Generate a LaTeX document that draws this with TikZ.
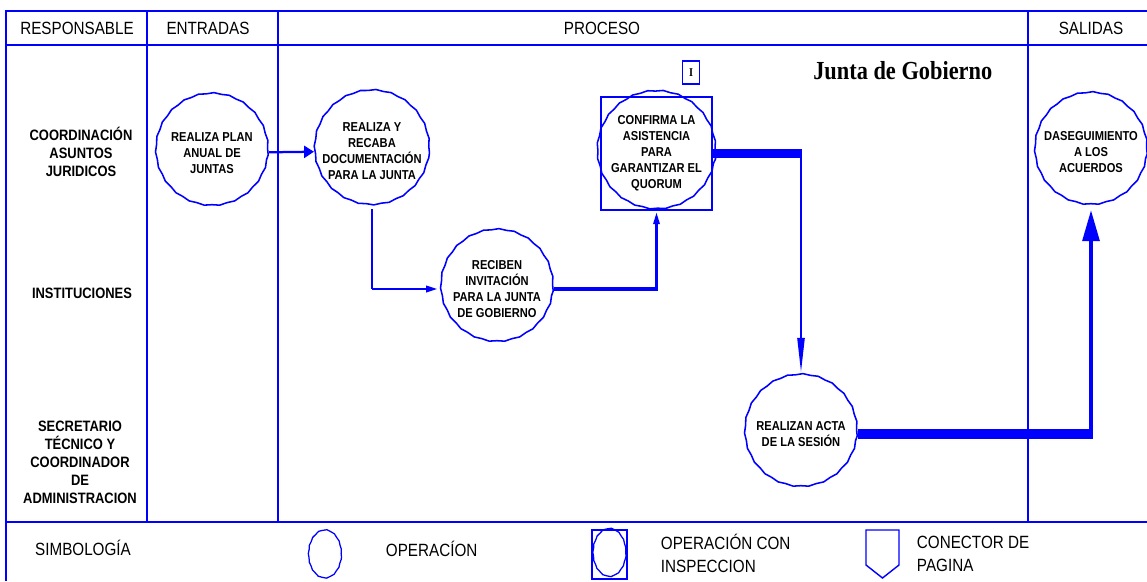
\documentclass[tikz,border=0pt]{standalone}
\usepackage{fontspec}
\setmainfont[FakeStretch=0.86]{Liberation Sans}
\newfontfamily\titlefont[FakeStretch=0.86]{Liberation Serif}
\usetikzlibrary{arrows.meta,decorations.pathmorphing,shapes.geometric,positioning}
\definecolor{lineblue}{RGB}{0,0,255}
\tikzset{
    oper/.style={circle,draw=lineblue,line width=1.1pt,minimum size=2.8cm,inner sep=0pt,align=center,
        font=\fontsize{9.2}{11.4}\selectfont\bfseries,decorate,decoration={snake,amplitude=0.35pt,segment length=11pt}},
    symoval/.style={ellipse,draw=lineblue,line width=0.9pt,minimum width=0.82cm,minimum height=1.2cm,inner sep=0pt,
        decorate,decoration={snake,amplitude=0.2pt,segment length=6pt}},
    lane/.style={align=center,font=\fontsize{10.7}{12.8}\selectfont\bfseries},
    head/.style={font=\fontsize{12.6}{15}\selectfont},
    legend/.style={align=left,anchor=west,font=\fontsize{12.6}{16.4}\selectfont},
    frame/.style={lineblue,line width=1.4pt},
    flow/.style={lineblue,line width=1.6pt},
    bar/.style={lineblue,line width=7pt},
}
\begin{document}
\begin{tikzpicture}[x=0.025cm,y=-0.025cm]
    \useasboundingbox (0,0) rectangle (1147,581);
    \draw[frame] (6,581) -- (6,11) -- (1147,11);
    \draw[frame] (6,45) -- (1147,45);
    \draw[frame] (6,522) -- (1147,522);
    \draw[frame] (147,11) -- (147,522);
    \draw[frame] (278,11) -- (278,522);
    \draw[frame] (1028,11) -- (1028,522);

    \node[head] (hresp) at (77,28) {RESPONSABLE};
    \node[head] (hent) at (208,28) {ENTRADAS};
    \node[head] (hproc) at (602,28) {PROCESO};
    \node[head] (hsal) at (1091,28) {SALIDAS};

    \node[lane] (lcoord) at (81,152) {COORDINACIÓN\\ASUNTOS\\JURIDICOS};
    \node[lane] (linst) at (82,293) {INSTITUCIONES};
    \node[lane] (lsec) at (80,462) {SECRETARIO\\TÉCNICO Y\\COORDINADOR\\DE\\ADMINISTRACION};

    \node[font=\titlefont\fontsize{18.5}{20}\selectfont\bfseries,anchor=base west,inner sep=0pt] (titulo) at (813,79) {Junta de Gobierno};
    \node[draw=lineblue,line width=1pt,minimum width=0.42cm,minimum height=0.57cm,inner sep=0pt,
        font=\titlefont\fontsize{8.5}{10}\selectfont\bfseries] (conector) at (691,72.5) {I};

    \node[oper] (plan) at (212,153) {REALIZA PLAN\\ANUAL DE\\JUNTAS};
    \node[oper] (recaba) at (372,151) {REALIZA Y\\RECABA\\DOCUMENTACIÓN\\PARA LA JUNTA};
    \node[oper] (invita) at (497,289) {RECIBEN\\INVITACIÓN\\PARA LA JUNTA\\DE GOBIERNO};
    \node[draw=lineblue,line width=1.2pt,minimum width=2.775cm,minimum height=2.825cm] (confbox) at (656.5,153.5) {};
    \node[oper,minimum size=2.75cm] (confirma) at (confbox) {CONFIRMA LA\\ASISTENCIA\\PARA\\GARANTIZAR EL\\QUORUM};
    \node[oper] (acta) at (801,434) {REALIZAN ACTA\\DE LA SESIÓN};
    \node[oper] (seguimiento) at (1091,152) {DASEGUIMIENTO\\A LOS\\ACUERDOS};

    \draw[flow,-{Triangle[length=7pt,width=8.5pt]}] (plan) -- (recaba);

    \coordinate (bturn) at (recaba.south |- invita.west);
    \draw[lineblue,line width=2.1pt] (recaba.south) -- (bturn);
    \draw[flow,-{Triangle[length=8pt,width=4.5pt]},shorten >=2pt] (bturn) -- (invita.west);

    \coordinate (cturn) at (invita.east -| confbox.south);
    \draw[lineblue,line width=2.8pt] (invita.east) -- ([xshift=1pt]cturn);
    \draw[flow,-{Triangle[length=8.5pt,width=4.5pt]},shorten >=1pt] (cturn) -- (confbox.south);

    \coordinate (dturn) at (confbox.east -| acta.north);
    \draw[bar] (confbox.east) -- ([xshift=0.8pt]dturn);
    \draw[flow,-{Triangle[length=25pt,width=5pt]},shorten >=3pt] (dturn) -- (acta.north);

    \coordinate (eturn) at (acta.east -| seguimiento.south);
    \draw[bar] (acta.east) -- ([xshift=1.2pt]eturn);
    \draw[lineblue,line width=2.4pt,-{Triangle[length=22pt,width=12pt]},shorten >=1pt] (eturn) -- (seguimiento.south);

    \node[head] (simb) at (83,548) {SIMBOLOGÍA};
    \node[symoval] (symop) at (325,556) {};
    \node[legend] (txtop) at (381,549) {OPERACÍON};
    \node[draw=lineblue,line width=1pt,minimum width=0.875cm,minimum height=1.225cm,inner sep=0pt] (symbox) at (609.5,554.5) {};
    \node[symoval] (symins) at (symbox) {};
    \node[legend] (txtins) at (656,553.5) {OPERACIÓN CON\\INSPECCION};
    \draw[lineblue,line width=1pt] (866,530) -- (899,530) -- (899,565) -- (882.5,578) -- (866,565) -- cycle;
    \node[legend] (txtcon) at (912,553.5) {CONECTOR DE\\PAGINA};
\end{tikzpicture}
\end{document}
